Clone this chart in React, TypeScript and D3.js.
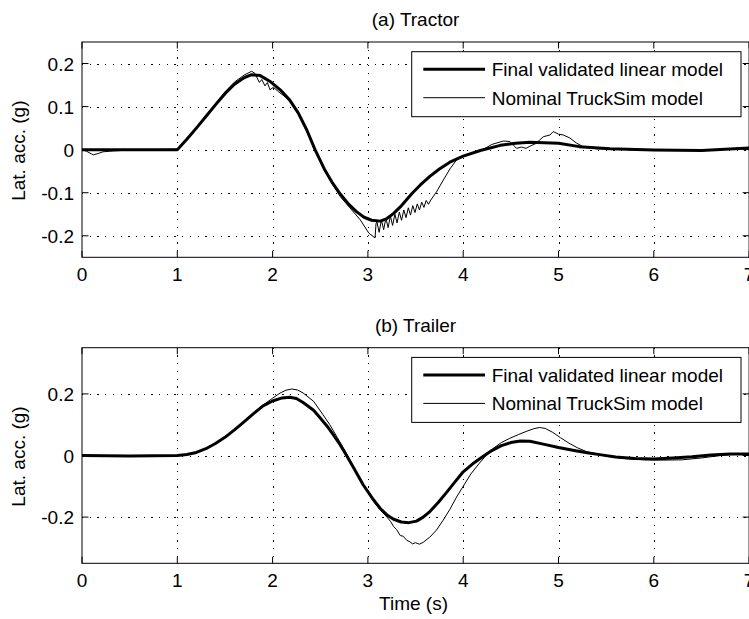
import React from 'react';
import * as d3 from 'd3';

type Pt = [number, number];

const xTicks = [0, 1, 2, 3, 4, 5, 6, 7];
const tractorYTicks = [-0.2, -0.1, 0, 0.1, 0.2];
const trailerYTicks = [-0.2, 0, 0.2];
const seriesNames = ['Final validated linear model', 'Nominal TruckSim model'];
const panelTitles = ['(a) Tractor', '(b) Trailer'];

const tractorLinear: Pt[] = [
  [0, 0], [0.5, 0], [1.0, 0], [1.1, 0.024], [1.2, 0.05], [1.3, 0.077], [1.4, 0.104],
  [1.5, 0.13], [1.6, 0.152], [1.7, 0.167], [1.78, 0.174], [1.87, 0.172], [1.97, 0.159],
  [2.08, 0.139], [2.18, 0.115], [2.27, 0.085], [2.36, 0.045], [2.445, 0], [2.55, -0.048],
  [2.63, -0.078], [2.71, -0.103], [2.8, -0.127], [2.88, -0.144], [2.96, -0.157],
  [3.04, -0.164], [3.13, -0.166], [3.2, -0.16], [3.27, -0.148], [3.34, -0.133],
  [3.41, -0.115], [3.47, -0.1], [3.55, -0.082], [3.65, -0.062], [3.75, -0.045],
  [3.86, -0.029], [4.0, -0.015], [4.18, -0.002], [4.39, 0.01], [4.55, 0.015],
  [4.7, 0.017], [5.0, 0.015], [5.22, 0.007], [5.54, 0.002], [6.0, -0.001],
  [6.5, -0.002], [7.0, 0.004],
];

const tractorNominal: Pt[] = [
  [0, 0], [0.05, -0.004], [0.1, -0.01], [0.12, -0.012], [0.17, -0.009], [0.22, -0.005],
  [0.33, -0.003], [0.5, -0.001], [0.67, 0], [1.0, 0.001], [1.1, 0.024], [1.2, 0.05],
  [1.3, 0.078], [1.4, 0.107], [1.5, 0.134], [1.6, 0.157], [1.7, 0.173], [1.78, 0.182],
  [1.815, 0.177], [1.861, 0.156], [1.886, 0.163], [1.92, 0.148], [1.945, 0.156],
  [1.973, 0.139], [2.008, 0.145], [2.06, 0.135], [2.18, 0.114], [2.27, 0.084],
  [2.36, 0.044], [2.445, -0.001], [2.55, -0.05], [2.63, -0.081], [2.71, -0.109],
  [2.81, -0.135], [2.92, -0.163], [3.01, -0.194], [3.075, -0.205], [3.085, -0.172],
  [3.095, -0.168], [3.118, -0.192], [3.142, -0.163], [3.165, -0.186], [3.189, -0.159],
  [3.212, -0.181], [3.236, -0.154], [3.259, -0.176], [3.283, -0.15], [3.306, -0.17],
  [3.33, -0.145], [3.353, -0.164], [3.377, -0.14], [3.4, -0.158], [3.424, -0.135],
  [3.447, -0.152], [3.471, -0.13], [3.494, -0.146], [3.518, -0.126], [3.541, -0.14],
  [3.565, -0.122], [3.588, -0.134], [3.612, -0.118], [3.635, -0.127], [3.66, -0.117],
  [3.72, -0.098], [3.78, -0.075], [3.86, -0.045], [3.93, -0.024], [4.0, -0.014],
  [4.18, -0.003], [4.3, 0.012], [4.42, 0.02], [4.49, 0.019], [4.56, 0.003], [4.61, 0.006],
  [4.66, 0.003], [4.7, 0.008], [4.76, 0.014], [4.806, 0.023], [4.84, 0.03], [4.91, 0.034],
  [4.945, 0.042], [5.0, 0.036], [5.05, 0.034], [5.12, 0.027], [5.19, 0.015], [5.26, 0.007],
  [5.4, 0.002], [6.0, -0.001], [6.5, -0.002], [7.0, 0.004],
];

const trailerLinear: Pt[] = [
  [0, 0], [0.5, -0.002], [1.0, 0], [1.1, 0.003], [1.2, 0.01], [1.3, 0.022], [1.4, 0.039],
  [1.5, 0.059], [1.6, 0.083], [1.7, 0.109], [1.8, 0.136], [1.9, 0.161], [2.0, 0.177],
  [2.1, 0.187], [2.18, 0.189], [2.25, 0.185], [2.32, 0.172], [2.43, 0.147], [2.5, 0.122],
  [2.57, 0.096], [2.64, 0.066], [2.71, 0.034], [2.77, 0.003], [2.85, -0.04],
  [2.95, -0.095], [3.05, -0.14], [3.13, -0.172], [3.2, -0.193], [3.27, -0.207],
  [3.35, -0.216], [3.43, -0.218], [3.51, -0.213], [3.58, -0.2], [3.65, -0.182],
  [3.74, -0.152], [3.83, -0.118], [3.92, -0.083], [4.0, -0.053], [4.1, -0.027],
  [4.2, -0.005], [4.3, 0.016], [4.4, 0.032], [4.5, 0.042], [4.6, 0.047], [4.7, 0.046],
  [4.84, 0.037], [5.0, 0.026], [5.15, 0.017], [5.3, 0.009], [5.45, 0.002], [5.6, -0.005],
  [5.8, -0.01], [6.0, -0.011], [6.2, -0.008], [6.4, -0.004], [6.6, 0.002], [6.8, 0.005],
  [7.0, 0.005],
];

const trailerNominal: Pt[] = [
  [0, 0], [1.0, 0], [1.1, 0.003], [1.2, 0.01], [1.3, 0.022], [1.4, 0.039], [1.5, 0.059],
  [1.6, 0.083], [1.7, 0.109], [1.8, 0.137], [1.9, 0.164], [2.0, 0.186], [2.08, 0.203],
  [2.14, 0.212], [2.2, 0.216], [2.26, 0.213], [2.32, 0.203], [2.43, 0.176], [2.53, 0.132],
  [2.6, 0.1], [2.68, 0.058], [2.76, 0.015], [2.82, -0.02], [2.9, -0.065], [2.98, -0.11],
  [3.06, -0.15], [3.14, -0.18], [3.2, -0.2], [3.24, -0.215], [3.27, -0.231], [3.3, -0.24],
  [3.34, -0.26], [3.37, -0.262], [3.41, -0.276], [3.44, -0.28], [3.47, -0.287],
  [3.5, -0.283], [3.54, -0.288], [3.58, -0.282], [3.65, -0.265], [3.72, -0.242],
  [3.79, -0.21], [3.86, -0.175], [3.93, -0.135], [4.0, -0.1], [4.08, -0.06],
  [4.17, -0.025], [4.24, 0.0], [4.31, 0.022], [4.4, 0.042], [4.49, 0.056], [4.58, 0.068],
  [4.66, 0.078], [4.74, 0.087], [4.8, 0.091], [4.86, 0.088], [4.94, 0.075], [5.02, 0.058],
  [5.11, 0.04], [5.2, 0.025], [5.29, 0.013], [5.4, 0.004], [5.5, -0.002], [5.7, -0.01],
  [5.9, -0.014], [6.1, -0.015], [6.3, -0.014], [6.5, -0.008], [6.7, 0.0], [6.85, 0.004],
  [7.0, 0.005],
];

const FONT = '"Liberation Sans", Arial, Helvetica, sans-serif';
const FS = 19;

interface PanelProps {
  title: string;
  top: number;
  bottom: number;
  yDomain: [number, number];
  yTicks: number[];
  linear: Pt[];
  nominal: Pt[];
  xLabel?: string;
}

const x = d3.scaleLinear().domain([0, 7]).range([82, 749.1]);

function Panel({ title, top, bottom, yDomain, yTicks, linear, nominal, xLabel }: PanelProps) {
  const y = d3.scaleLinear().domain(yDomain).range([bottom, top]);
  const left = x(0);
  const right = x(7);
  const line = d3.line<Pt>().x((d) => x(d[0])).y((d) => y(d[1]));
  const tickLen = 6.5;
  const gridX = xTicks.filter((t) => t > 0 && t < 7);
  const legX = 411.7;
  const legW = 329.3;
  const legTop = top + 9.7;
  const legH = 65;
  const rows = [legTop + 17.5, legTop + 46];
  const cx = (left + right) / 2;
  return (
    <g>
      <text x={cx} y={top - 16} textAnchor="middle" fontFamily={FONT} fontSize={FS}>{title}</text>
      {/* grid */}
      <g stroke="#000" strokeWidth={1} strokeDasharray="1.3,6.4" shapeRendering="crispEdges">
        {gridX.map((t) => (
          <line key={'gx' + t} x1={Math.round(x(t)) + 0.5} x2={Math.round(x(t)) + 0.5} y1={top} y2={bottom} />
        ))}
        {yTicks.map((t) => (
          <line key={'gy' + t} x1={left} x2={right} y1={Math.round(y(t)) + 0.5} y2={Math.round(y(t)) + 0.5} />
        ))}
      </g>
      {/* data */}
      <path d={line(nominal) || ''} fill="none" stroke="#000" strokeWidth={1} strokeLinejoin="round" />
      <path d={line(linear) || ''} fill="none" stroke="#000" strokeWidth={3} strokeLinejoin="round" />
      {/* frame */}
      <rect x={left} y={top} width={right - left} height={bottom - top} fill="none" stroke="#000" strokeWidth={1} />
      {/* ticks */}
      <g stroke="#000" strokeWidth={1}>
        {xTicks.map((t) => (
          <g key={'xt' + t}>
            <line x1={x(t)} x2={x(t)} y1={bottom} y2={bottom - tickLen} />
            <line x1={x(t)} x2={x(t)} y1={top} y2={top + tickLen} />
          </g>
        ))}
        {yTicks.map((t) => (
          <g key={'yt' + t}>
            <line x1={left} x2={left + tickLen} y1={y(t)} y2={y(t)} />
            <line x1={right} x2={right - tickLen} y1={y(t)} y2={y(t)} />
          </g>
        ))}
      </g>
      {xTicks.map((t) => (
        <text key={'xl' + t} x={x(t)} y={bottom + 24} textAnchor="middle" fontFamily={FONT} fontSize={FS}>{String(t)}</text>
      ))}
      {yTicks.map((t) => (
        <text key={'yl' + t} x={left - 8} y={y(t) + 7} textAnchor="end" fontFamily={FONT} fontSize={FS}>{String(t)}</text>
      ))}
      <text transform={`translate(25,${(top + bottom) / 2 + 1}) rotate(-90)`} textAnchor="middle" fontFamily={FONT} fontSize={FS}>Lat. acc. (g)</text>
      {xLabel ? (
        <text x={cx - 2} y={bottom + 47} textAnchor="middle" fontFamily={FONT} fontSize={FS}>{xLabel}</text>
      ) : null}
      {/* legend */}
      <rect x={legX} y={legTop} width={legW} height={legH} fill="#fff" stroke="#000" strokeWidth={1} />
      {seriesNames.map((name, i) => (
        <g key={name}>
          <line x1={423.3} x2={485} y1={rows[i]} y2={rows[i]} stroke="#000" strokeWidth={i === 0 ? 3 : 1} />
          <text x={491.7} y={rows[i] + 7} fontFamily={FONT} fontSize={FS}>{name}</text>
        </g>
      ))}
    </g>
  );
}

export default function App() {
  return (
    <svg width={749} height={619} style={{ position: 'absolute', left: 0, top: 0, background: '#fff' }}>
      <rect x={0} y={0} width={749} height={619} fill="#fff" />
      <Panel title={panelTitles[0]} top={42} bottom={257.3} yDomain={[-0.25, 0.25]} yTicks={tractorYTicks}
        linear={tractorLinear} nominal={tractorNominal} />
      <Panel title={panelTitles[1]} top={347.7} bottom={563.3} yDomain={[-0.35, 0.35]} yTicks={trailerYTicks}
        linear={trailerLinear} nominal={trailerNominal} xLabel="Time (s)" />
    </svg>
  );
}
